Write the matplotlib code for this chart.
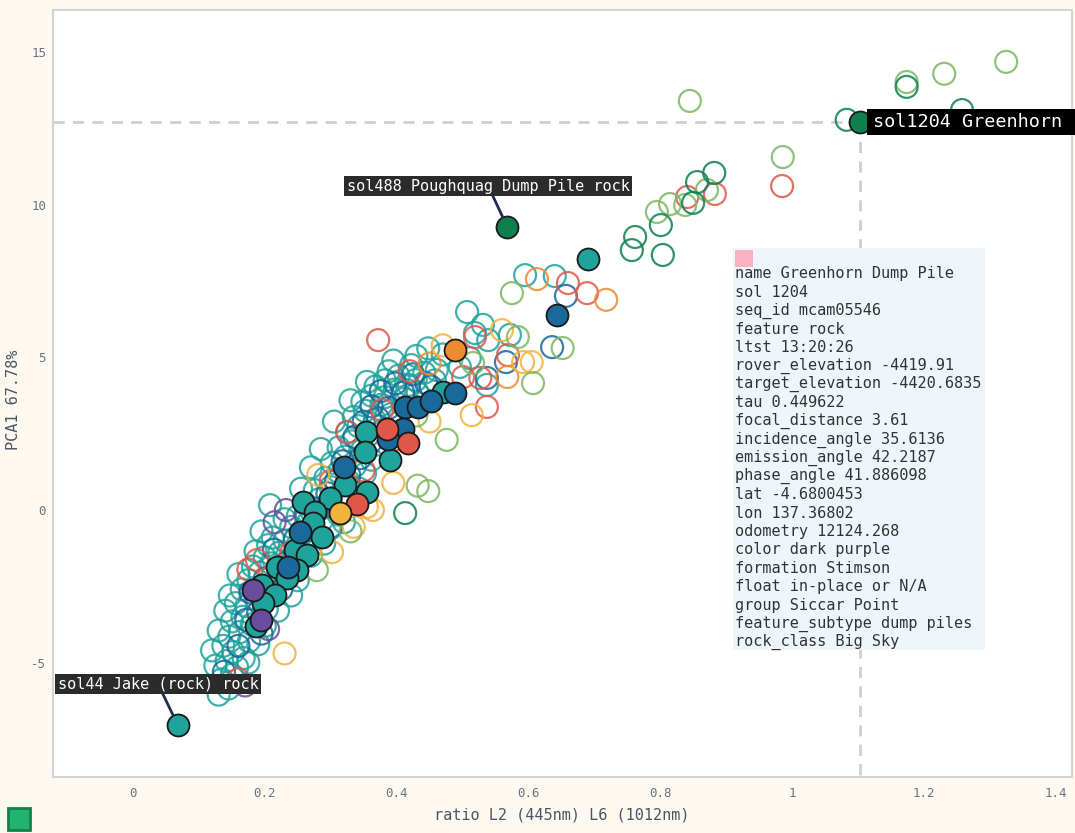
import matplotlib
matplotlib.use("Agg")
import matplotlib.pyplot as plt
from matplotlib.patches import Rectangle

plt.rcParams['font.family'] = ['DejaVu Sans Mono']
plt.rcParams['axes.unicode_minus'] = False

# ---- data (ratio L2/L6, PCA1) ----
teal_x = [0.130, 0.145, 0.135, 0.150, 0.125, 0.142, 0.158, 0.120, 0.137, 0.152, 0.168, 0.146, 0.162, 0.130,
          0.176, 0.150, 0.166, 0.140, 0.180, 0.156, 0.172, 0.147, 0.165, 0.186, 0.203, 0.175, 0.192, 0.207,
          0.160, 0.182, 0.200, 0.218, 0.210, 0.226, 0.186, 0.205, 0.222, 0.238, 0.212, 0.230, 0.248, 0.195,
          0.240, 0.256, 0.266, 0.250, 0.272, 0.288, 0.262, 0.282, 0.297, 0.312, 0.276, 0.300, 0.317, 0.333,
          0.292, 0.312, 0.327, 0.343, 0.302, 0.322, 0.337, 0.352, 0.312, 0.332, 0.347, 0.362, 0.325, 0.342,
          0.357, 0.372, 0.335, 0.352, 0.367, 0.382, 0.348, 0.362, 0.377, 0.392, 0.402, 0.368, 0.382, 0.397,
          0.412, 0.388, 0.403, 0.418, 0.432, 0.422, 0.442, 0.458, 0.461, 0.429, 0.382, 0.416, 0.496, 0.537,
          0.511, 0.519, 0.531, 0.539, 0.572, 0.507, 0.595, 0.640, 0.448, 0.470, 0.430, 0.395, 0.355, 0.330,
          0.305, 0.285, 0.270, 0.255, 0.230, 0.208, 0.270, 0.300, 0.320, 0.290, 0.250, 0.240, 0.220, 0.200,
          0.190, 0.175]
teal_y = [-6.05, -5.85, -5.55, -5.40, -5.10, -4.95, -5.15, -4.60, -4.45, -4.65, -4.85, -4.15, -4.00, -3.95,
          -4.30, -3.65, -3.50, -3.30, -3.75, -3.05, -3.15, -2.80, -2.60, -2.90, -3.25, -2.30, -2.05, -2.70,
          -2.10, -1.85, -1.55, -2.40, -1.75, -2.00, -1.35, -1.15, -1.40, -1.60, -0.90, -1.00, -1.20, -0.70,
          -0.55, -0.80, -0.40, -0.20, -0.10, -0.30, 0.20, 0.35, 0.10, -0.15, 0.65, 0.75, 0.50, 0.30,
          1.05, 1.25, 0.95, 0.70, 1.55, 1.75, 1.45, 1.20, 2.05, 2.25, 1.95, 1.65, 2.55, 2.75,
          2.45, 2.15, 3.05, 3.25, 2.95, 2.65, 3.55, 3.75, 3.45, 3.15, 2.85, 4.05, 4.25, 3.95,
          3.65, 4.55, 4.40, 4.10, 3.85, 4.75, 4.50, 4.25, 4.59, 4.26, 3.70, 3.93, 4.69, 4.10,
          4.98, 5.80, 6.07, 5.57, 5.74, 6.49, 7.70, 7.67, 5.30, 5.10, 5.05, 4.90, 4.20, 3.60,
          2.90, 2.00, 1.40, 0.70, -0.30, 0.16, -1.50, -0.60, -0.40, -1.10, -2.30, -2.80, -3.30, -3.80,
          -4.40, -5.00]

blue_x = [0.138, 0.160, 0.172, 0.190, 0.178, 0.200, 0.214, 0.232, 0.246, 0.262, 0.280, 0.295, 0.308, 0.328,
          0.318, 0.345, 0.336, 0.360, 0.350, 0.372, 0.362, 0.388, 0.376, 0.398, 0.410, 0.425, 0.445, 0.452,
          0.636, 0.566, 0.537, 0.657, 0.300, 0.268, 0.225, 0.195]
blue_y = [-5.30, -4.45, -3.60, -3.35, -2.70, -2.25, -1.30, -1.75, -0.95, -0.15, 0.05, 0.55, 0.95, 1.15,
          1.60, 1.70, 2.40, 2.20, 2.90, 3.00, 3.40, 3.35, 3.90, 4.15, 3.85, 4.45, 4.15, 4.05,
          5.34, 4.85, 4.33, 7.02, -0.55, -0.65, -2.60, -4.05]

red_x = [0.660, 0.689, 0.519, 0.372, 0.569, 0.501, 0.527, 0.537, 0.325, 0.378, 0.188, 0.175, 0.985, 0.883,
         0.841, 0.240, 0.395, 0.420, 0.300, 0.160, 0.350]
red_y = [7.44, 7.11, 5.67, 5.57, 5.08, 4.36, 4.33, 3.38, 2.56, 3.28, -1.64, -1.95, 10.62, 10.36,
         10.26, -1.40, 2.30, 4.55, 0.95, -5.55, 1.30]

orange_x = [0.613, 0.718, 0.568, 0.450]
orange_y = [7.57, 6.89, 4.36, 4.80]

yellow_x = [0.592, 0.605, 0.514, 0.281, 0.302, 0.355, 0.364, 0.395, 0.470, 0.335, 0.230, 0.260, 0.450, 0.560]
yellow_y = [4.85, 4.85, 3.11, 1.15, -1.38, 0.10, 0.00, 0.89, 5.40, -0.55, -4.70, -1.00, 2.90, 5.90]

lgreen_x = [1.325, 1.231, 1.174, 0.845, 0.986, 0.871, 0.838, 0.815, 0.795, 0.575, 0.584, 0.652, 0.516, 0.607,
            0.476, 0.432, 0.448, 0.279, 0.430, 0.330]
lgreen_y = [14.69, 14.30, 14.03, 13.41, 11.57, 10.49, 10.00, 10.03, 9.77, 7.11, 5.67, 5.31, 4.82, 4.16,
            2.30, 0.80, 0.62, -1.97, 3.10, -0.70]

dgreen_x = [1.258, 1.174, 1.083, 0.882, 0.856, 0.850, 0.801, 0.762, 0.757, 0.804, 0.413]
dgreen_y = [13.11, 13.87, 12.79, 11.05, 10.75, 10.07, 9.34, 8.95, 8.52, 8.36, -0.10]

purple_x = [0.232, 0.215, 0.170, 0.205]
purple_y = [0.00, -0.40, -5.75, -3.90]

# highlighted (filled) targets
f_teal_x = [0.470, 0.354, 0.352, 0.390, 0.322, 0.355, 0.299, 0.258, 0.276, 0.273, 0.287, 0.246, 0.264, 0.218,
            0.249, 0.234, 0.196, 0.215, 0.197, 0.186, 0.690, 0.068]
f_teal_y = [3.87, 2.56, 1.90, 1.64, 0.82, 0.59, 0.39, 0.26, -0.07, -0.43, -0.89, -1.31, -1.48, -1.87,
            -1.97, -2.23, -2.46, -2.79, -3.05, -3.80, 8.23, -7.05]
f_blue_x = [0.413, 0.432, 0.452, 0.489, 0.410, 0.387, 0.320, 0.253, 0.235, 0.643]
f_blue_y = [3.38, 3.38, 3.57, 3.84, 2.66, 2.33, 1.41, -0.72, -1.87, 6.39]
f_red_x = [0.385, 0.417, 0.340]
f_red_y = [2.66, 2.20, 0.20]
f_orange_x = [0.489]
f_orange_y = [5.25]
f_yellow_x = [0.314]
f_yellow_y = [-0.10]
f_purple_x = [0.182, 0.194]
f_purple_y = [-2.62, -3.61]
f_dgreen_x = [0.568, 1.103]
f_dgreen_y = [9.28, 12.72]

hover_lines = [
    "name Greenhorn Dump Pile", "sol 1204", "seq_id mcam05546", "feature rock", "ltst 13:20:26",
    "rover_elevation -4419.91", "target_elevation -4420.6835", "tau 0.449622", "focal_distance 3.61",
    "incidence_angle 35.6136", "emission_angle 42.2187", "phase_angle 41.886098", "lat -4.6800453",
    "lon 137.36802", "odometry 12124.268", "color dark purple", "formation Stimson",
    "float in-place or N/A", "group Siccar Point", "feature_subtype dump piles", "rock_class Big Sky",
]

TEAL = "#1fa39b"
BLUE = "#19699a"
RED = "#e0574a"
ORANGE = "#ee8a30"
YELLOW = "#f3b23e"
LGREEN = "#7cb862"
DGREEN = "#0e8050"
PURPLE = "#6a4c9c"

fig = plt.figure(figsize=(10.75, 8.33), dpi=100)
fig.patch.set_facecolor("#fdf9f1")
ax = fig.add_axes([53 / 1075, 1 - 777 / 833, (1072 - 53) / 1075, (777 - 10) / 833])
ax.set_facecolor("white")

S = 250
opens = [(teal_x, teal_y, TEAL), (blue_x, blue_y, BLUE), (red_x, red_y, RED), (orange_x, orange_y, ORANGE),
         (yellow_x, yellow_y, YELLOW), (lgreen_x, lgreen_y, LGREEN), (dgreen_x, dgreen_y, DGREEN),
         (purple_x, purple_y, PURPLE)]
for xs, ys, c in opens:
    ax.scatter(xs, ys, s=S, facecolors="none", edgecolors=c, linewidths=1.6, alpha=0.85, zorder=2)

filled = [(f_teal_x, f_teal_y, TEAL), (f_blue_x, f_blue_y, BLUE), (f_red_x, f_red_y, RED),
          (f_orange_x, f_orange_y, ORANGE), (f_yellow_x, f_yellow_y, YELLOW),
          (f_purple_x, f_purple_y, PURPLE), (f_dgreen_x, f_dgreen_y, DGREEN)]
for xs, ys, c in filled:
    ax.scatter(xs, ys, s=S, facecolors=c, edgecolors="#1a1a1a", linewidths=1.3, zorder=3)

x0, x1, y0, y1 = -0.1214, 1.4249, -8.75, 16.39
ax.set_xlim(x0, x1)
ax.set_ylim(y0, y1)

# crosshair on the hovered point
hx, hy = f_dgreen_x[1], f_dgreen_y[1]
ax.plot([x0, hx], [hy, hy], ls=(0, (4, 3)), color="#cfcfcf", lw=2, zorder=1)
ax.plot([hx, hx], [hy, y0], ls=(0, (4, 3)), color="#cfcfcf", lw=2, zorder=1)

# labels on targets
ax.annotate("sol488 Poughquag Dump Pile rock", xy=(f_dgreen_x[0], f_dgreen_y[0]), xytext=(0.539, 10.62),
            ha="center", va="center", fontsize=11, color="white",
            bbox=dict(boxstyle="square,pad=0.15", fc="#2b2b2b", ec="none"),
            arrowprops=dict(arrowstyle="-", color="#1e2d4f", lw=2, shrinkA=0, shrinkB=8), zorder=5)
ax.annotate("sol44 Jake (rock) rock", xy=(f_teal_x[-1], f_teal_y[-1]), xytext=(0.038, -5.70),
            ha="center", va="center", fontsize=11, color="white",
            bbox=dict(boxstyle="square,pad=0.15", fc="#2b2b2b", ec="none"),
            arrowprops=dict(arrowstyle="-", color="#1e2d4f", lw=2, shrinkA=0, shrinkB=8), zorder=5)
ax.add_patch(Rectangle((1.114, 12.28), 0.32, 0.86, fc="black", ec="none", zorder=6, clip_on=False))
ax.text(1.123, 12.72, "sol1204 Greenhorn", ha="left", va="center", fontsize=13.3, color="white",
        zorder=7, clip_on=False)

# hover panel
ax.add_patch(Rectangle((0.910, -4.59), 0.383, 13.18, fc="#eef6fc", ec="none", zorder=7))
ax.add_patch(Rectangle((0.914, 7.97), 0.027, 0.56, fc="#f7b3c2", ec="none", zorder=8))
for i, line in enumerate(hover_lines):
    ax.text(0.914, 7.74 - i * 0.603, line, ha="left", va="center", fontsize=11, color="#333333", zorder=8)

ax.set_xticks([0, 0.2, 0.4, 0.6, 0.8, 1, 1.2, 1.4])
ax.set_xticklabels(["0", "0.2", "0.4", "0.6", "0.8", "1", "1.2", "1.4"])
ax.set_yticks([-5, 0, 5, 10, 15])
ax.tick_params(length=0, labelsize=9, colors="#6b7280")
ax.tick_params(axis="x", pad=7)
ax.tick_params(axis="y", pad=5)
for sp in ax.spines.values():
    sp.set_color("#d4d4d4")
    sp.set_linewidth(1.5)

ax.set_xlabel("ratio L2 (445nm) L6 (1012nm)", fontsize=11, color="#4a5568")
ax.set_ylabel("PCA1 67.78%", fontsize=11, color="#4a5568")
ax.xaxis.set_label_coords((562 - 53) / 1019, -(808 - 777) / 767)
ax.yaxis.set_label_coords(-(53 - 21) / 1019, (777 - 400) / 767)

fig.add_artist(Rectangle((8 / 1075, 3 / 833), 22 / 1075, 22 / 833, transform=fig.transFigure,
                         fc="#22b36e", ec="#13814c", lw=2))

fig.savefig("out.png", dpi=100, facecolor=fig.get_facecolor())
